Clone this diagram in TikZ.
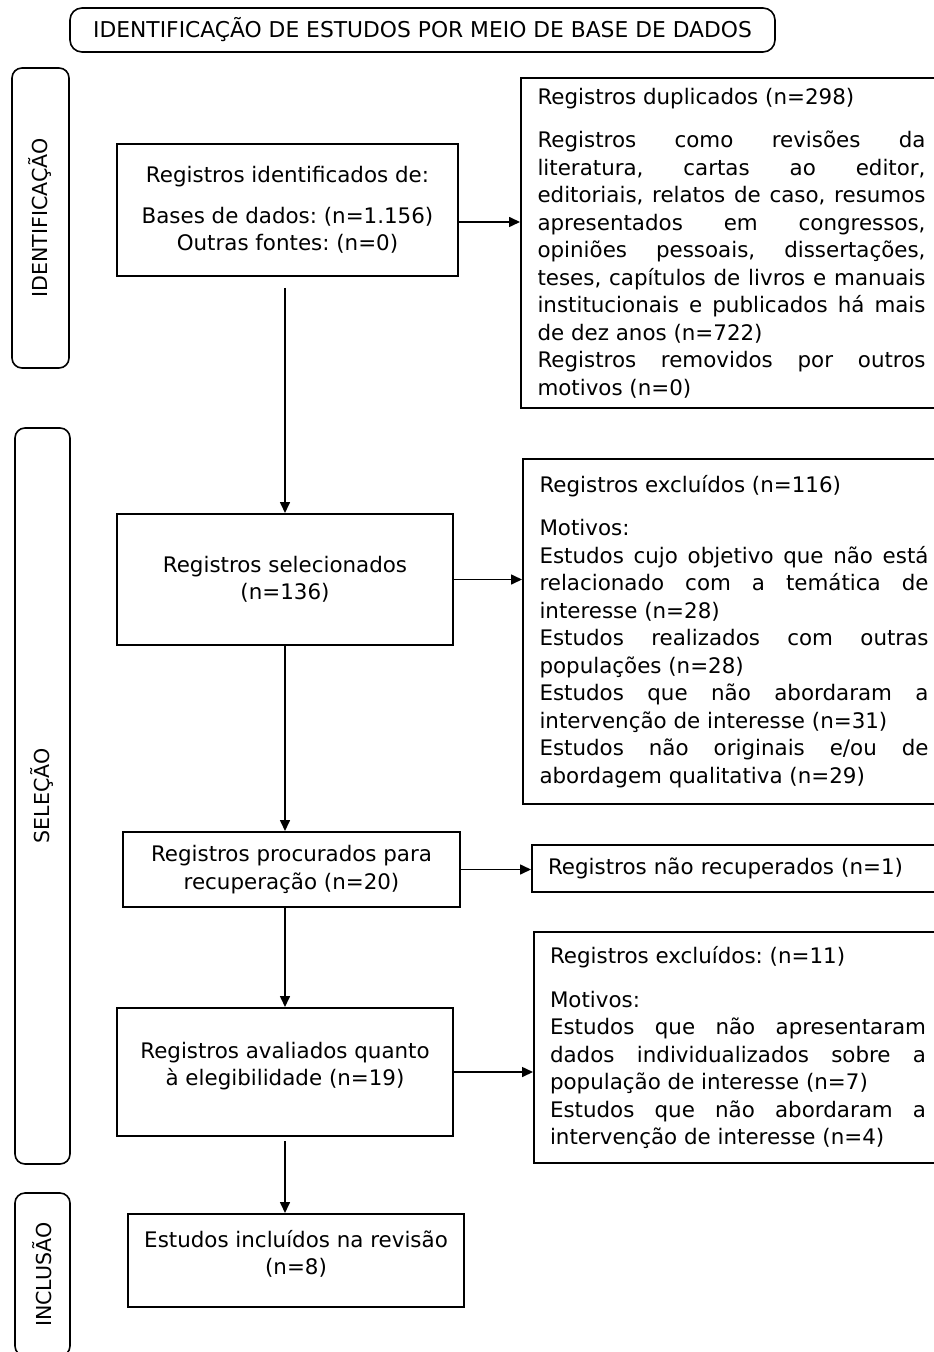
\documentclass[tikz,border=0pt]{standalone}
\usepackage{fontspec}
\setmainfont{DejaVu Sans}
\usetikzlibrary{arrows.meta}
\setlength{\parindent}{0pt}
\frenchspacing
\tolerance=10000
\hbadness=10000
\hyphenpenalty=10000

\begin{document}
\begin{tikzpicture}[x=0.5pt, y=-0.5pt,
    txt/.style={font=\fontsize{10.7pt}{13.75pt}\selectfont},
    box/.style={draw, line width=1pt, txt, align=center, inner sep=0pt},
    note/.style={draw, line width=1pt, txt, align=justify, anchor=north west, inner xsep=8.25pt, inner ysep=0pt},
    band/.style={draw, line width=0.8pt, rounded corners=5pt, rotate=90, inner sep=0pt, font=\fontsize{10.3pt}{12pt}\selectfont},
    arr/.style={-{Triangle[length=5.5pt, width=5pt]}, line width=0.8pt}]
    \useasboundingbox (0,0) rectangle (933,1352);

    % Title and the three phase bands on the left
    \node[draw, line width=0.8pt, rounded corners=6pt, minimum width=352.5pt, minimum height=22pt,
          font=\fontsize{10.9pt}{13pt}\selectfont] (Title) at (422.5,30)
          {IDENTIFICAÇÃO DE ESTUDOS POR MEIO DE BASE DE DADOS};
    \node[band, minimum width=150pt, minimum height=28.5pt] (BandIdent) at (40.5,218) {IDENTIFICAÇÃO};
    \node[band, minimum width=368pt, minimum height=27.5pt] (BandSel) at (42.5,796) {SELEÇÃO};
    \node[band, minimum width=81.5pt, minimum height=27.5pt] (BandIncl) at (42.5,1274.5) {INCLUSÃO};

    % Main column of boxes
    \node[box, minimum width=170.5pt, minimum height=66pt] (Ident) at (287.5,210)
          {Registros identificados de:\\[6.5pt] Bases de dados: (n=1.156)\\ Outras fontes: (n=0)};
    \node[box, minimum width=168pt, minimum height=65.5pt] (Sel) at (285,579.5)
          {Registros selecionados\\ (n=136)};
    \node[box, minimum width=168.5pt, minimum height=37.5pt] (Proc) at (291.5,869.5)
          {Registros procurados para\\ recuperação (n=20)};
    \node[box, minimum width=168pt, minimum height=64pt] (Aval) at (285,1072)
          {Registros avaliados quanto\\ à elegibilidade (n=19)\\[-5.75pt]};
    \node[box, minimum width=168pt, minimum height=46.5pt] (Incl) at (296,1260.5)
          {Estudos incluídos na revisão\\ (n=8)\\[-5.75pt]};

    % Side boxes with the removed records
    \node[note, text width=194pt, minimum height=165pt] (Dup) at (520,77)
          {Registros duplicados (n=298)\par\vspace{8pt}
           Registros como revisões da\linebreak
           literatura, cartas ao editor,\linebreak
           editoriais, relatos de caso, resumos\linebreak
           apresentados em congressos,\linebreak
           opiniões pessoais, dissertações,\linebreak
           teses, capítulos de livros e manuais\linebreak
           institucionais e publicados há mais\linebreak
           de dez anos (n=722)\par
           Registros removidos por outros\linebreak
           motivos (n=0)};
    \node[note, text width=194.5pt, minimum height=172.5pt] (Excl) at (522,458)
          {Registros excluídos (n=116)\par\vspace{8pt}
           Motivos:\par
           Estudos cujo objetivo que não está\linebreak
           relacionado com a temática de\linebreak
           interesse (n=28)\par
           Estudos realizados com outras\linebreak
           populações (n=28)\par
           Estudos que não abordaram a\linebreak
           intervenção de interesse (n=31)\par
           Estudos não originais e/ou de\linebreak
           abordagem qualitativa (n=29)};
    \node[note, align=left, inner xsep=8pt, text width=190pt, minimum height=23.5pt] (NaoRec) at (531,844)
          {Registros não recuperados (n=1)};
    \node[note, inner xsep=8pt, text width=188pt, minimum height=115.5pt] (Excl2) at (533,931)
          {Registros excluídos: (n=11)\par\vspace{8pt}
           Motivos:\par
           Estudos que não apresentaram\linebreak
           dados individualizados sobre a\linebreak
           população de interesse (n=7)\par
           Estudos que não abordaram a\linebreak
           intervenção de interesse (n=4)};

    % Arrows down the column
    \coordinate (Col) at (285,0);
    \draw[arr, shorten <=5.5pt] (Ident.south -| Col) -- (Sel.north -| Col);
    \draw[arr] (Sel.south -| Col) -- (Proc.north -| Col);
    \draw[arr] (Proc.south -| Col) -- (Aval.north -| Col);
    \draw[arr, shorten <=2pt] (Aval.south -| Col) -- (Incl.north -| Col);

    % Arrows to the side boxes
    \coordinate (IdentOut) at ([yshift=-6pt]Ident.east);
    \draw[arr] (IdentOut) -- (IdentOut -| Dup.west);
    \draw[arr] (Sel.east) -- (Sel.east -| Excl.west);
    \draw[arr] (Proc.east) -- (Proc.east -| NaoRec.west);
    \draw[arr] (Aval.east) -- (Aval.east -| Excl2.west);
\end{tikzpicture}
\end{document}
